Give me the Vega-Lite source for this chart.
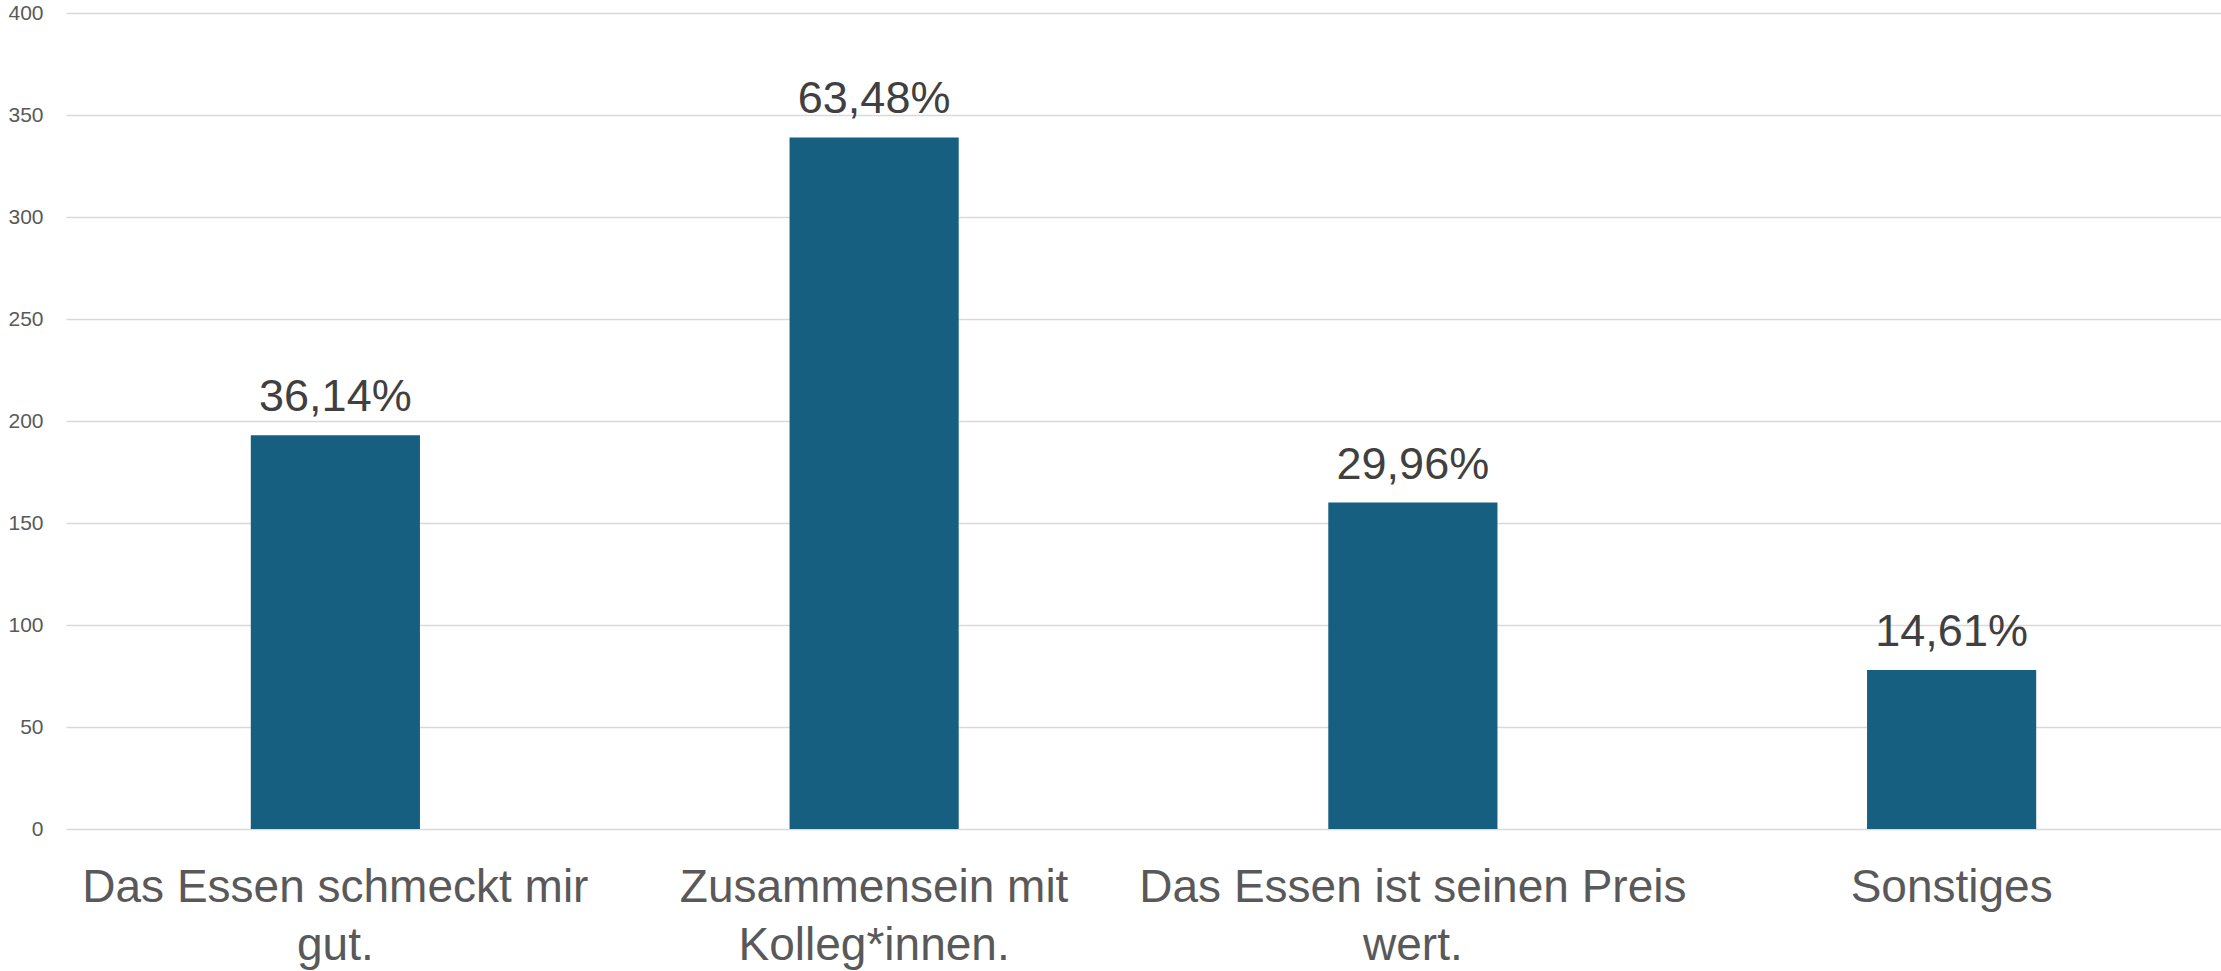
{
  "$schema": "https://vega.github.io/schema/vega-lite/v6.json",
  "autosize": {"type": "none"},
  "padding": {"left": 66, "top": 13, "right": 0, "bottom": 142},
  "width": 2155,
  "height": 816,
  "background": "white",
  "data": {
    "values": [
      {"kategorie": "Das Essen schmeckt mir gut.", "anzahl": 193, "anteil": "36,14%"},
      {"kategorie": "Zusammensein mit Kolleg*innen.", "anzahl": 339, "anteil": "63,48%"},
      {"kategorie": "Das Essen ist seinen Preis wert.", "anzahl": 160, "anteil": "29,96%"},
      {"kategorie": "Sonstiges", "anzahl": 78, "anteil": "14,61%"}
    ]
  },
  "encoding": {
    "x": {
      "field": "kategorie",
      "type": "nominal",
      "sort": null,
      "scale": {"paddingInner": 0.686, "paddingOuter": 0.343},
      "axis": {
        "title": null,
        "domain": false,
        "ticks": false,
        "labelAngle": 0,
        "labelFont": "Liberation Sans",
        "labelFontSize": 46,
        "labelColor": "#595959",
        "labelPadding": 36,
        "labelLineHeight": 58,
        "labelLimit": 0,
        "labelExpr": "datum.label == 'Das Essen schmeckt mir gut.' ? ['Das Essen schmeckt mir', 'gut.'] : datum.label == 'Zusammensein mit Kolleg*innen.' ? ['Zusammensein mit', 'Kolleg*innen.'] : datum.label == 'Das Essen ist seinen Preis wert.' ? ['Das Essen ist seinen Preis', 'wert.'] : datum.label"
      }
    },
    "y": {
      "field": "anzahl",
      "type": "quantitative",
      "scale": {"domain": [0, 400]},
      "axis": {
        "title": null,
        "domain": false,
        "ticks": false,
        "values": [0, 50, 100, 150, 200, 250, 300, 350, 400],
        "labelFont": "Liberation Sans",
        "labelFontSize": 21,
        "labelColor": "#595959",
        "labelPadding": 23,
        "gridColor": "#d9d9d9",
        "gridWidth": 1.5
      }
    }
  },
  "layer": [
    {"mark": {"type": "bar", "color": "#175F80"}},
    {
      "mark": {
        "type": "text",
        "baseline": "alphabetic",
        "dy": -24,
        "font": "Liberation Sans",
        "fontSize": 45,
        "color": "#404040"
      },
      "encoding": {"text": {"field": "anteil"}}
    }
  ],
  "config": {"view": {"stroke": null}}
}
